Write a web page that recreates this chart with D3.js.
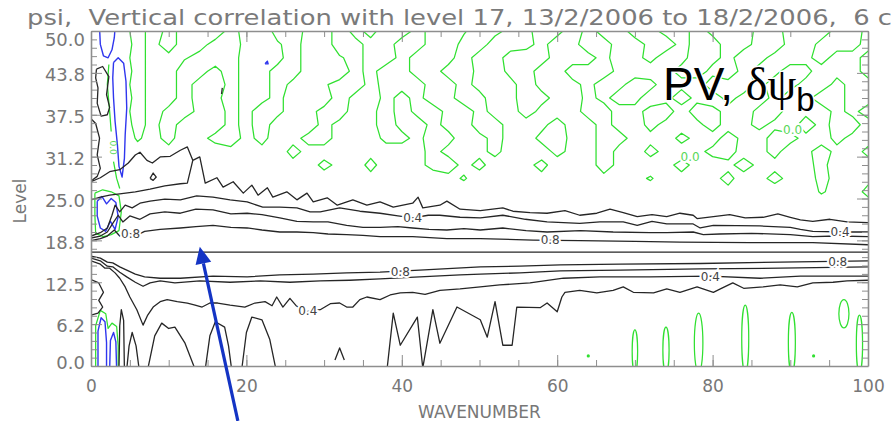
<!DOCTYPE html>
<html>
<head>
<meta charset="utf-8">
<title>Vertical correlation with level 17</title>
<script src="https://cdn.jsdelivr.net/npm/d3@7/dist/d3.min.js"></script>
<style>
    body { margin: 0; background: #fff; }
    svg { display: block; font-family: "DejaVu Sans", sans-serif; }
</style>
</head>
<body>
<svg id="vcorr-chart" width="896" height="421"></svg>
<script>
const titleText = "psi,  Vertical correlation with level 17, 13/2/2006 to 18/2/2006,  6 c";
const xLabel = "WAVENUMBER";
const yLabel = "Level";
const xTickValues = [0, 20, 40, 60, 80, 100];
const yTickValues = [0, 6.25, 12.5, 18.75, 25, 31.25, 37.5, 43.75, 50];
const yTickLabels = ["0.0", "6.2", "12.5", "18.8", "25.0", "31.2", "37.5", "43.8", "50.0"];
const refLevel = 17;

// positive contours above level 17, points are [wavenumber, level]
const up02 = [[0,24.8],[1.2,25.2],[2.4,25.5],[3.7,25.7],[5.7,26.0],[7.6,26.4],[9.5,26.9],[11.5,27.2],[12.4,27.3],[13.1,30.7],[14.0,31.2],[14.7,27.3],[16.2,28.1],[17.0,26.7],[18.3,27.5],[19.6,25.8],[20.7,27.0],[21.5,25.5],[22.7,26.6],[23.4,25.2],[25.2,26.0],[26.5,24.8],[27.8,25.8],[28.6,24.5],[30.4,25.1],[31.7,24.0],[33.7,24.8],[35.5,24.0],[37.2,24.5],[38.9,23.7],[41.4,24.3],[42.1,25.2],[42.7,23.6],[44.9,24.0],[45.8,24.6],[47.5,23.4],[50.1,23.2],[53.0,23.6],[54.3,23.1],[56.5,22.9],[58.7,22.8],[61.0,23.2],[62.9,22.5],[65.1,22.8],[66.8,23.4],[68.5,22.9],[70.3,22.3],[72.2,22.6],[74.1,22.3],[75.8,22.8],[77.5,22.5],[78.0,22.0],[80.1,22.3],[82.2,22.6],[84.2,22.1],[86.5,22.2],[88.4,22.7],[90.0,22.2],[91.3,21.8],[92.9,21.6],[95.1,21.9],[97.3,21.5],[100,21.4]];
const up02Hump = [[0,27.5],[1.2,28.1],[2.4,29.0],[3.7,29.3],[4.8,30.3],[5.7,31.5],[6.3,31.9],[7.2,30.7],[7.9,30.3],[8.9,31.2],[10.2,31.3],[11.5,32.2],[12.4,32.7],[13.1,30.7]];
const up04 = [[0,19.4],[1.2,19.9],[2.1,20.6],[2.7,22.5],[3.1,24.0],[3.7,23.0],[4.4,24.0],[5.3,23.6],[6.3,24.3],[7.6,24.6],[9.5,24.9],[11.5,24.8],[13.6,25.4],[15.7,25.2],[17.9,24.8],[20.1,24.5],[22.1,23.7],[24.3,23.7],[26.5,23.6],[28.2,23.0],[29.5,23.0],[32.0,23.6],[34.6,23.1],[37.2,22.8],[39.5,22.4],[41.4,22.1],[43.4,22.5],[44.9,22.5],[47.5,22.2],[50.1,22.1],[53.0,22.5],[55.9,21.9],[58.7,21.5],[62.9,21.3],[65.5,21.5],[68.5,21.5],[70.3,21.0],[72.2,21.6],[74.1,21.2],[77.5,21.2],[78.4,20.6],[80.1,21.0],[86.1,20.9],[90.0,20.7],[91.3,20.4],[92.9,20.1],[97.3,20.0],[100,20.0]];
const up06 = [[0,19.1],[1.2,19.4],[2.1,20.0],[2.8,21.3],[3.5,22.5],[4.1,21.5],[5.0,22.4],[6.3,21.9],[7.6,22.7],[9.5,23.0],[11.5,22.8],[13.5,23.4],[15.7,23.3],[18.0,22.7],[20.1,22.8],[22.0,22.6],[24.3,22.1],[26.5,21.6],[28.6,21.5],[30.5,21.5],[32.9,21.0],[35.0,20.7],[37.2,20.7],[39.5,20.8],[41.4,20.6],[43.5,20.4],[45.8,20.3],[48.0,20.5],[50.1,20.3],[53.0,20.6],[56.0,20.2],[58.7,20.0],[63.0,20.2],[67.2,20.0],[71.9,19.9],[74.1,19.9],[77.5,20.0],[78.8,19.6],[80.9,19.7],[85.0,19.8],[90.0,19.6],[92.9,19.3],[96.0,19.4],[100,19.3]];
const up08 = [[0,18.7],[1.2,19.0],[2.1,19.4],[3.0,20.3],[3.7,19.4],[4.6,20.0],[5.7,19.4],[6.9,20.1],[8.9,20.4],[11.5,20.6],[13.5,20.8],[15.7,21.0],[18.0,20.7],[20.1,20.6],[22.0,20.3],[24.3,20.0],[26.5,20.0],[28.6,19.9],[30.5,19.7],[32.9,19.6],[35.0,19.5],[37.2,19.3],[41.4,19.3],[45.8,19.0],[50.1,19.0],[56.9,18.8],[62.9,18.7],[70.0,18.6],[75.8,18.5],[84.8,18.4],[92.9,18.4],[100,18.1]];

// positive contours below level 17
const dn08 = [[0,16.4],[1.2,16.1],[2.1,15.5],[2.8,15.4],[3.7,14.8],[4.6,14.3],[5.7,13.7],[6.9,13.3],[8.9,13.1],[11.5,13.1],[15.7,13.4],[20.1,13.3],[24.3,13.6],[28.6,13.7],[32.9,13.9],[37.2,14.0],[42.3,14.3],[50.1,14.8],[55.2,14.9],[60.4,15.1],[68.1,15.2],[78.4,15.3],[88.7,15.5],[100,15.7]];
const dn06 = [[0,16.1],[1.2,15.7],[2.1,14.9],[2.8,14.8],[3.7,14.0],[4.6,13.3],[5.7,12.5],[6.7,11.9],[7.6,12.4],[8.9,12.7],[10.8,12.4],[14.0,12.7],[17.9,12.5],[21.8,12.7],[25.6,12.5],[29.5,12.7],[33.3,12.8],[37.2,13.0],[42.3,13.3],[47.5,13.6],[50.1,13.7],[55.2,13.9],[60.4,14.2],[68.1,14.3],[78.4,14.5],[88.7,14.6],[100,14.8]];
const dn04 = [[0,15.7],[1.2,15.2],[1.8,14.6],[2.4,14.6],[3.1,13.9],[3.7,13.1],[4.4,11.8],[5.0,10.3],[5.9,8.4],[6.7,6.1],[7.3,7.6],[8.0,8.8],[8.9,9.6],[9.8,9.9],[11.1,9.6],[12.4,9.4],[13.4,9.1],[14.3,8.8],[15.3,9.4],[16.3,9.4],[17.9,9.1],[19.8,8.8],[21.1,9.4],[22.4,9.6],[23.3,9.0],[23.9,10.3],[24.7,8.8],[25.6,10.1],[26.4,9.0],[27.7,8.1],[29.5,8.4],[30.8,9.3],[32.0,9.4],[32.9,8.8],[33.7,8.8],[34.6,9.9],[35.5,10.3],[37.2,9.9],[38.5,10.6],[39.8,10.9],[41.4,11.0],[43.0,10.7],[44.9,11.3],[47.5,11.5],[50.1,11.8],[52.6,12.1],[56.5,12.4],[60.8,13.1],[65.5,13.3],[71.9,13.3],[79.7,13.4],[86.1,13.1],[91.3,13.4],[100,13.4]];
const dn02 = [[38.1,-0.5],[38.9,7.9],[39.8,3.1],[42.0,7.3],[42.7,-0.3],[44.0,8.4],[44.9,3.4],[47.1,8.8],[50.1,6.9],[51.0,4.3],[52.0,9.6],[53.0,3.1],[54.2,3.1],[54.8,8.8],[57.8,8.7],[58.7,9.4],[60.0,8.1],[60.6,10.3],[61.0,11.0],[62.9,11.3],[65.1,10.9],[67.2,11.3],[68.5,11.8],[69.8,11.0],[72.4,10.9],[74.1,11.5],[75.8,11.0],[78.0,11.8],[80.1,11.0],[81.0,11.5],[82.6,12.4],[84.0,11.6],[86.5,11.8],[88.7,12.1],[90.9,11.8],[92.9,12.4],[95.5,12.5],[97.3,12.7],[100,12.8]];
const dn02Arches = [
    [[4.6,-0.5],[4.9,3.0],[5.3,5.0],[5.8,3.0],[6.2,-0.5]],
    [[7.3,-0.5],[8.2,4.5],[9.1,6.4],[10.0,5.6],[10.8,5.8],[12.1,3.4],[13.4,-0.5]],
    [[14.7,-0.5],[15.3,4.5],[16.0,6.6],[17.2,5.8],[17.7,3.0],[18.1,-0.5]],
    [[19.4,-0.5],[20.0,5.0],[20.7,7.3],[22.0,6.9],[23.0,4.0],[23.8,-0.5]],
    [[31.4,0.9],[32.0,2.7],[32.6,0.9]]
];

// low wavenumbers, strongly varying
const leftBlack = [
    [[0.7,44.3],[1.5,44.7],[2.3,43.2],[2.0,40.5],[2.4,38.6],[2.1,37.5],[1.3,37.3],[0.8,39.2],[0.9,41.5],[0.6,43.0],[0.7,44.3]],
    [[0,36.9],[0.6,36.2],[1.1,34.0],[0.8,31.5],[1.2,29.5],[0.8,28.3],[0,27.6]],
    [[3.6,-0.5],[3.7,6.0],[3.9,8.4],[4.2,6.8],[4.3,-0.5]],
    [[0,12.9],[1.0,12.4],[1.6,11.0],[1.0,9.8],[1.5,8.8],[0.9,7.9],[0,7.6]],
    [[7.6,28.0],[8.0,28.8],[8.4,28.2],[8.0,27.7],[7.6,28.0]],
    [[16.8,40.6],[16.9,41.5]]
];
const leftBlue = [
    [[1.1,50.5],[1.2,48.0],[1.6,46.3],[2.2,46.0],[2.7,47.2],[3.0,49.0],[3.1,50.5]],
    [[2.9,45.3],[3.5,46.0],[4.2,45.2],[4.5,42.5],[4.6,38.5],[4.4,34.5],[4.3,31.0],[4.0,28.2],[3.6,29.8],[3.4,33.0],[3.1,36.5],[2.9,40.0],[2.8,43.0],[2.9,45.3]],
    [[0.8,24.6],[1.4,25.3],[2.0,24.2],[2.6,25.0],[3.2,24.4],[3.5,22.3],[3.1,20.4],[2.5,21.6],[1.9,20.1],[1.2,20.6],[0.8,22.4],[0.8,24.6]],
    [[0.9,-0.5],[0.9,5.2],[1.3,7.2],[1.8,6.6],[2.0,3.5],[2.0,-0.5]],
    [[2.4,-0.5],[2.5,3.8],[2.9,5.0],[3.2,3.6],[3.3,-0.5]],
    [[22.4,45.1],[22.7,45.5],[22.8,45.1],[22.4,45.1]]
];
const leftGreen = [
    [[0.6,-0.5],[0.6,6.0],[1.2,8.3],[1.9,7.8],[2.2,5.6],[2.7,6.4],[3.3,5.9],[3.5,3.0],[3.5,-0.5]],
    [[0.5,25.8],[1.5,26.3],[2.6,26.0],[3.6,25.4],[3.9,23.0],[3.6,20.2],[2.6,19.6],[1.6,19.3],[0.6,19.8],[0.5,22.5],[0.5,25.8]],
    [[2.3,45.0],[2.1,42.0],[2.4,38.0],[2.6,35.0]],
    [[2.9,30.5],[3.3,28.0],[3.7,26.5]]
];

// sign of the correlation above the 0.2 line: digit < 5 negative, >= 5 positive
// columns: wavenumber -2 .. 102 step 2, rows: level 52 down to 22 step 2
const signWn0 = -2, signWnStep = 2, signLev0 = 52, signLevStep = 2;
const signRows = [
    "7777" + "36237635723673624" + "63276326" + "76323672" + "37623576" + "23673672",
    "7777" + "27365736732672637" + "73675236" + "62373672" + "36726573" + "27673263",
    "7777" + "36276326753672367" + "23673276" + "63762367" + "32632763" + "26732367",
    "7777" + "27653236762765367" + "36762763" + "23676376" + "37623623" + "67627632",
    "7777" + "36723627632767362" + "27632673" + "36723267" + "76326736" + "62376726",
    "7777" + "27636736726753263" + "32763676" + "26763762" + "37672326" + "23673672",
    "7777" + "36727627637672673" + "63762376" + "23673623" + "76267367" + "37623672",
    "7777" + "27326736237632762" + "73267367" + "26763276" + "32723673" + "27673623",
    "7777" + "36276736276736762" + "67367236" + "76276367" + "36762763" + "67263276",
    "7777" + "46376326376327673" + "36237636" + "73267236" + "67367267" + "23673673",
    "7777" + "67676767673676767" + "76367637" + "67367267" + "36763276" + "37626736",
    "7777" + "67676767676736737" + "76326376" + "63767267" + "76367626" + "67637673",
    "7777" + "76767676767676767" + "76764767" + "76767676" + "47676376" + "36736767",
    "7777" + "67676767676767676" + "76767676" + "67676767" + "76767676" + "76746736",
    "7777" + "77777777777777777" + "77777777" + "77777777" + "77777777" + "77777777",
    "7777" + "77777777777777777" + "77777777" + "77777777" + "77777777" + "77777777"
];

// small zero loops near the ground at high wavenumber
const loopWn = [70.0, 74.0, 78.2, 84.2, 90.2, 96.9, 98.9];
const loopLo = [-1, -1, -1, -1, -1, 5.7, -1];
const loopHi = [5.4, 5.8, 7.9, 9.1, 8.0, 9.9, 7.6];
const loopHalfWn = [0.35, 0.4, 0.55, 0.45, 0.45, 0.65, 0.4];
const dotWn = [64.0, 93.0];
const dotLev = [1.5, 1.5];

const blackLabelText = ["0.8", "0.4", "0.8", "0.4", "0.8", "0.4", "0.8", "0.4"];
const blackLabelWn = [5.1, 41.4, 59.1, 96.4, 39.8, 27.9, 96.1, 79.7];
const blackLabelLev = [19.7, 22.1, 18.8, 20.0, 14.1, 8.2, 15.6, 13.4];
const greenLabelText = ["0.0", "0.0"];
const greenLabelWn = [77.1, 90.3];
const greenLabelLev = [31.2, 35.2];

const arrowFrom = [18.9, -8.2];
const arrowTo = [14.0, 17.8];

function vcorrChart()
{
    const l_width = 896, l_height = 421,
          l_margin = {top: 31, right: 28, bottom: 55, left: 91},
          l_x = d3.scaleLinear().domain([0, 100]).range([l_margin.left, l_width - l_margin.right]),
          l_y = d3.scaleLinear().domain([0, 50]).range([l_height - l_margin.bottom, l_margin.top]),
          l_svg = d3.select("#vcorr-chart"),
          l_black = "#262626", l_green = "#30e030", l_blue = "#2f36ee", l_axisCol = "#8e8e8e", l_textCol = "#777",
          l_line = d3.line().x((d) => l_x(d[0])).y((d) => l_y(d[1]));

    l_svg.append("defs").append("clipPath").attr("id", "plot-clip")
        .append("rect")
            .attr("x", l_x(0)).attr("y", l_y(50))
            .attr("width", l_x(100) - l_x(0)).attr("height", l_y(0) - l_y(50));

    const l_plot = l_svg.append("g").attr("clip-path", "url(#plot-clip)");

    // zero contour from the sign grid
    const l_vals = [];
    signRows.forEach((row) => { for (const ch of row) l_vals.push(4.5 - (+ch)); });
    const l_cont = d3.contours()
            .size([signRows[0].length, signRows.length])
            .thresholds([0])(l_vals),
          l_proj = d3.geoTransform({
            point: function(px, py) {
                this.stream.point(l_x(signWn0 + (px - 0.5) * signWnStep),
                                  l_y(signLev0 - (py - 0.5) * signLevStep));
            }
          });

    l_plot.append("g").selectAll("path")
        .data(l_cont)
        .enter().append("path")
            .attr("d", d3.geoPath(l_proj))
            .attr("fill", "none")
            .attr("stroke", l_green)
            .attr("stroke-width", 1.25)
            .attr("stroke-linejoin", "round");

    l_plot.append("g").selectAll("ellipse")
        .data(loopWn)
        .enter().append("ellipse")
            .attr("cx", (d) => l_x(d))
            .attr("cy", (d, i) => l_y((loopLo[i] + loopHi[i]) / 2))
            .attr("rx", (d, i) => l_x(loopHalfWn[i]) - l_x(0))
            .attr("ry", (d, i) => (l_y(loopLo[i]) - l_y(loopHi[i])) / 2)
            .attr("fill", "none")
            .attr("stroke", l_green)
            .attr("stroke-width", 1.25);

    l_plot.append("g").selectAll("circle")
        .data(dotWn)
        .enter().append("circle")
            .attr("cx", (d) => l_x(d))
            .attr("cy", (d, i) => l_y(dotLev[i]))
            .attr("r", 1.6)
            .attr("fill", l_green);

    const drawLines = function(p_lines, p_color, p_w) {
        l_plot.append("g").selectAll("path")
            .data(p_lines)
            .enter().append("path")
                .attr("d", l_line)
                .attr("fill", "none")
                .attr("stroke", p_color)
                .attr("stroke-width", p_w)
                .attr("stroke-linejoin", "round");
    };
    drawLines(leftGreen, l_green, 1.25);
    drawLines(leftBlue, l_blue, 1.4);
    drawLines([up02, up02Hump, up04, up06, up08, dn08, dn06, dn04, dn02].concat(dn02Arches, leftBlack), l_black, 1.3);

    l_plot.append("line")
        .attr("x1", l_x(0)).attr("x2", l_x(100))
        .attr("y1", l_y(refLevel)).attr("y2", l_y(refLevel))
        .attr("stroke", l_black)
        .attr("stroke-width", 1.3);

    // contour labels, white halo cuts the line
    const addLabels = function(p_text, p_wn, p_lev, p_color) {
        l_svg.append("g").selectAll("text")
            .data(p_text)
            .enter().append("text")
                .attr("x", (d, i) => l_x(p_wn[i]))
                .attr("y", (d, i) => l_y(p_lev[i]))
                .attr("dy", "0.36em")
                .attr("text-anchor", "middle")
                .attr("font-size", 12)
                .attr("fill", p_color)
                .attr("stroke", "#fff")
                .attr("stroke-width", 4)
                .attr("paint-order", "stroke")
                .text((d) => d);
    };
    addLabels(blackLabelText, blackLabelWn, blackLabelLev, "#444");
    addLabels(greenLabelText, greenLabelWn, greenLabelLev, "#5ad85a");

    l_svg.append("text")
        .attr("transform", "translate(" + l_x(2.9) + "," + l_y(32.6) + ") rotate(90)")
        .attr("dy", "0.36em")
        .attr("text-anchor", "middle")
        .attr("font-size", 9)
        .attr("fill", "#5ad85a")
        .text("0.0");

    // axes, ticks point into the plot
    const styleAxis = function(p_g) {
        p_g.selectAll("line, path").attr("stroke", l_axisCol);
        p_g.select(".domain").attr("stroke-width", 1.6);
        p_g.selectAll("text").attr("fill", l_textCol).attr("font-size", 17).attr("font-family", "DejaVu Sans, sans-serif");
    };

    const l_left = l_svg.append("g")
        .attr("transform", "translate(" + l_x(0) + ",0)")
        .call(d3.axisLeft(l_y).tickValues(yTickValues).tickSize(-11).tickSizeOuter(0).tickPadding(6)
              .tickFormat((d, i) => yTickLabels[i]))
        .call(styleAxis);
    l_left.selectAll("text").attr("font-size", 18)
        .attr("y", (d, i) => i === yTickValues.length - 1 ? 9 : (i === 0 ? -3 : 2));

    l_svg.append("g")
        .attr("transform", "translate(" + l_x(0) + ",0)")
        .call(d3.axisLeft(l_y).tickValues(d3.range(0, 50.01, 1.25)).tickSize(-6).tickFormat(""))
        .call(styleAxis).select(".domain").remove();

    l_svg.append("g")
        .attr("transform", "translate(" + l_x(100) + ",0)")
        .call(d3.axisRight(l_y).tickValues(yTickValues).tickSize(-11).tickSizeOuter(0).tickFormat(""))
        .call(styleAxis);
    l_svg.append("g")
        .attr("transform", "translate(" + l_x(100) + ",0)")
        .call(d3.axisRight(l_y).tickValues(d3.range(0, 50.01, 1.25)).tickSize(-6).tickFormat(""))
        .call(styleAxis).select(".domain").remove();

    l_svg.append("g")
        .attr("transform", "translate(0," + l_y(0) + ")")
        .call(d3.axisBottom(l_x).tickValues(xTickValues).tickSize(-11).tickSizeOuter(0).tickPadding(14))
        .call(styleAxis);
    l_svg.append("g")
        .attr("transform", "translate(0," + l_y(0) + ")")
        .call(d3.axisBottom(l_x).tickValues(d3.range(0, 100.1, 5)).tickSize(-6).tickFormat(""))
        .call(styleAxis).select(".domain").remove();

    l_svg.append("g")
        .attr("transform", "translate(0," + l_y(50) + ")")
        .call(d3.axisTop(l_x).tickValues(xTickValues).tickSize(-11).tickSizeOuter(0).tickFormat(""))
        .call(styleAxis);
    l_svg.append("g")
        .attr("transform", "translate(0," + l_y(50) + ")")
        .call(d3.axisTop(l_x).tickValues(d3.range(0, 100.1, 5)).tickSize(-6).tickFormat(""))
        .call(styleAxis).select(".domain").remove();

    l_svg.append("text")
        .attr("x", (l_x(0) + l_x(100)) / 2)
        .attr("y", 418)
        .attr("text-anchor", "middle")
        .attr("font-size", 17)
        .attr("fill", l_textCol)
        .text(xLabel);

    l_svg.append("text")
        .attr("transform", "translate(26,201) rotate(-90)")
        .attr("text-anchor", "middle")
        .attr("font-size", 17)
        .attr("fill", l_textCol)
        .text(yLabel);

    l_svg.append("text")
        .attr("x", 27)
        .attr("y", 25)
        .attr("font-size", 21)
        .attr("fill", "#7a7a7a")
        .attr("textLength", 865)
        .attr("lengthAdjust", "spacingAndGlyphs")
        .style("white-space", "pre")
        .text(titleText);

    // annotation
    const l_pv = l_svg.append("text")
        .attr("x", 663)
        .attr("y", 100)
        .attr("font-family", "Liberation Sans, Arial, sans-serif")
        .attr("font-size", 46)
        .attr("fill", "#000")
        .attr("stroke", "#fff")
        .attr("stroke-width", 3)
        .attr("paint-order", "stroke")
        .style("white-space", "pre");
    l_pv.append("tspan").text("PV, ");
    l_pv.append("tspan").attr("font-family", "Liberation Serif, serif").text("δψ");
    l_pv.append("tspan").attr("font-size", 33).attr("dy", 11).text("b");

    const l_p0 = [l_x(arrowFrom[0]), l_y(arrowFrom[1])],
          l_p1 = [l_x(arrowTo[0]), l_y(arrowTo[1])],
          l_ang = Math.atan2(l_p1[1] - l_p0[1], l_p1[0] - l_p0[0]),
          l_headLen = 17, l_headW = 8,
          l_base = [l_p1[0] - l_headLen * Math.cos(l_ang), l_p1[1] - l_headLen * Math.sin(l_ang)],
          l_nx = -Math.sin(l_ang), l_ny = Math.cos(l_ang);

    l_svg.append("line")
        .attr("x1", l_p0[0]).attr("y1", l_p0[1])
        .attr("x2", l_base[0]).attr("y2", l_base[1])
        .attr("stroke", "#1434c4")
        .attr("stroke-width", 3.2);
    l_svg.append("path")
        .attr("d", "M" + l_p1 + "L" + [l_base[0] + l_nx * l_headW, l_base[1] + l_ny * l_headW] +
                   "L" + [l_base[0] - l_nx * l_headW, l_base[1] - l_ny * l_headW] + "Z")
        .attr("fill", "#1434c4");
}

vcorrChart();
</script>
</body>
</html>
